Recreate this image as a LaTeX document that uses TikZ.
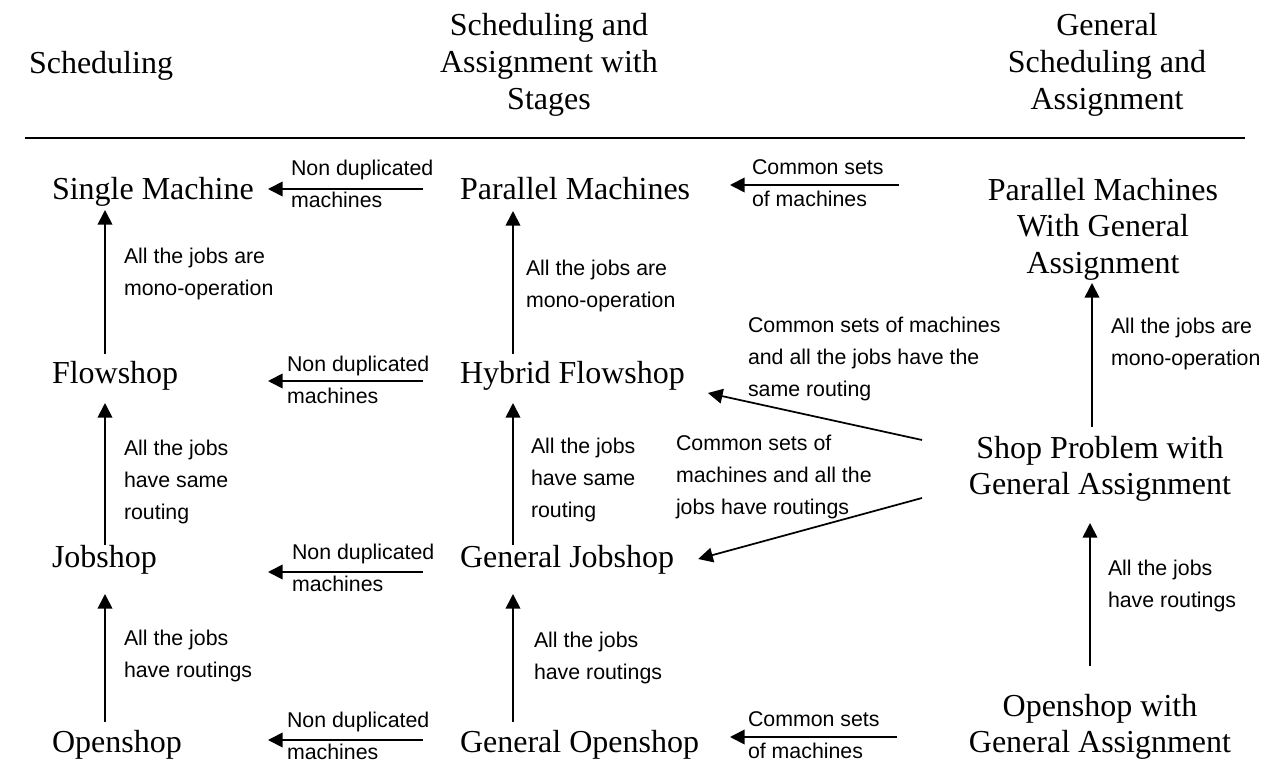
\documentclass[tikz,border=0pt]{standalone}
\usepackage{fontspec}
\setmainfont{Liberation Serif}
\newfontfamily\arialf{Liberation Sans}
\usetikzlibrary{arrows.meta,calc}
\tikzset{
  tnode/.style={font=\fontsize{24}{27.5}\selectfont, inner sep=0pt, outer sep=0pt},
  lbl/.style={font=\arialf\fontsize{16}{24}\selectfont, inner sep=0pt, outer sep=0pt, align=left, anchor=north west},
  arr/.style={line width=1.3pt, -{Triangle[length=11pt,width=11pt]}},
  rule/.style={line width=1.3pt},
}
\begin{document}
\begin{tikzpicture}[x=0.75pt,y=-0.75pt]
\useasboundingbox (0,0) rectangle (1274,762);
% headers
\node[tnode, anchor=north] (h1) at (101,51.5) {Scheduling};
\node[tnode, anchor=north, align=center] (h2) at (549,13.5) {Scheduling and\\Assignment with\\Stages};
\node[tnode, anchor=north, align=center] (h3) at (1107,13.5) {General\\Scheduling and\\Assignment};
\coordinate (rl) at (25,138);
\coordinate (rr) at (1245,138);
\draw[rule] (rl) -- (rr);
% problem nodes
\node[tnode, anchor=base west] (sm) at (52,200) {Single Machine};
\node[tnode, anchor=base west] (fs) at (52,384) {Flowshop};
\node[tnode, anchor=base west] (js) at (52,567) {Jobshop};
\node[tnode, anchor=base west] (os) at (52,752) {Openshop};
\node[tnode, anchor=base west] (pm) at (460,200) {Parallel Machines};
\node[tnode, anchor=base west] (hf) at (460,384) {Hybrid Flowshop};
\node[tnode, anchor=base west] (gj) at (460,567) {General Jobshop};
\node[tnode, anchor=base west] (go) at (460,752) {General Openshop};
\node[tnode, anchor=north, align=center] (pmga) at (1103,178) {Parallel Machines\\With General\\Assignment};
\node[tnode, anchor=north, align=center] (spga) at (1100,436) {Shop Problem with\\General Assignment};
\node[tnode, anchor=north, align=center] (osga) at (1100,694) {Openshop with\\General Assignment};
% labels
\node[lbl] (nd1) at (291,160) {Non duplicated\\machines};
\node[lbl] (nd2) at (287,356) {Non duplicated\\machines};
\node[lbl] (nd3) at (292,544) {Non duplicated\\machines};
\node[lbl] (nd4) at (287,712) {Non duplicated\\machines};
\node[lbl] (cs1) at (752,160) {Common sets\\of machines};
\node[lbl] (cs4) at (748,712) {Common sets\\of machines};
\node[lbl] (l1) at (124,248) {All the jobs are\\mono-operation};
\node[lbl] (l2) at (124,440) {All the jobs\\have same\\routing};
\node[lbl] (l3) at (124,630) {All the jobs\\have routings};
\node[lbl] (m1) at (526,260) {All the jobs are\\mono-operation};
\node[lbl] (m2) at (531,438) {All the jobs\\have same\\routing};
\node[lbl] (m3) at (534,632) {All the jobs\\have routings};
\node[lbl] (r1) at (1111,318) {All the jobs are\\mono-operation};
\node[lbl] (r2) at (1108,560) {All the jobs\\have routings};
\node[lbl] (d1) at (748,317) {Common sets of machines\\and all the jobs have the\\same routing};
\node[lbl] (d2) at (676,435) {Common sets of\\machines and all the\\jobs have routings};
% horizontal arrows: non duplicated machines
\draw[arr] ($(pm.base west)+(-37,-11)$) -- ($(sm.base west)+(216,-11)$);
\draw[arr] ($(hf.base west)+(-37,-3)$) -- ($(fs.base west)+(216,-3)$);
\draw[arr] ($(gj.base west)+(-37,5)$) -- ($(js.base west)+(216,5)$);
\draw[arr] ($(go.base west)+(-37,-12)$) -- ($(os.base west)+(216,-12)$);
% common sets of machines
\draw[arr] ($(pmga.north)+(-204,7)$) -- ($(pm.base west)+(270,-15)$);
\draw[arr] ($(osga.north)+(-203,43)$) -- ($(go.base west)+(270,-15)$);
% vertical arrows, left column
\draw[arr] ($(fs.base west)+(53,-30)$) -- ($(sm.base west)+(53,10)$);
\draw[arr] ($(js.base west)+(53,-22)$) -- ($(fs.base west)+(53,19)$);
\draw[arr] ($(os.base west)+(53,-30)$) -- ($(js.base west)+(53,27)$);
% vertical arrows, middle column
\draw[arr] ($(hf.base west)+(53,-30)$) -- ($(pm.base west)+(53,11)$);
\draw[arr] ($(gj.base west)+(53,-22)$) -- ($(hf.base west)+(53,19)$);
\draw[arr] ($(go.base west)+(53,-30)$) -- ($(gj.base west)+(53,27)$);
% vertical arrows, right column
\draw[arr] ($(spga.north)+(-8,-9)$) -- ($(pmga.north)+(-11,105)$);
\draw[arr] ($(osga.north)+(-10,-28)$) -- ($(spga.north)+(-10,87)$);
% diagonal arrows
\draw[arr] ($(spga.north)+(-178,4)$) -- ($(hf.base east)+(23,9)$);
\draw[arr] ($(spga.north)+(-178,62)$) -- ($(gj.base east)+(24,-8)$);
\end{tikzpicture}
\end{document}
